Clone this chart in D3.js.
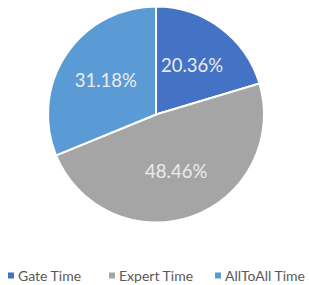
<!DOCTYPE html>
<html>
<head>
<meta charset="utf-8">
<script src="https://cdn.jsdelivr.net/npm/d3@7"></script>
<style>
  html, body { margin: 0; padding: 0; background: #fff; }
  #chart { width: 309px; height: 285px; }
</style>
</head>
<body>
<div id="chart"></div>
<script>
const categories = ["Gate Time", "Expert Time", "AllToAll Time"];
const values = [20.36, 48.46, 31.18];
const colors = ["#4472C4", "#A5A5A5", "#5B9BD5"];

const width = 309, height = 285;
const cx = 156, cy = 114.5, radius = 108;

const svg = d3.select("#chart")
    .append("svg")
    .attr("width", width)
    .attr("height", height);

const color = d3.scaleOrdinal().domain(categories).range(colors);

const pie = d3.pie().sort(null).value((d, i) => values[i]);
const arcs = pie(categories);

const arc = d3.arc().innerRadius(0).outerRadius(radius);
const labelArc = d3.arc().innerRadius(radius * 0.56).outerRadius(radius * 0.56);

const g = svg.append("g").attr("transform", `translate(${cx},${cy})`);

g.selectAll(".slice").data(arcs).join("path")
    .attr("class", "slice")
    .attr("d", arc)
    .attr("fill", d => color(d.data))
    .attr("stroke", "#fff")
    .attr("stroke-width", 2);

g.selectAll(".label").data(arcs).join("text")
    .attr("class", "label")
    .attr("transform", d => `translate(${labelArc.centroid(d)})`)
    .attr("text-anchor", "middle")
    .attr("dy", "0.35em")
    .attr("font-family", "Lato, 'Open Sans', sans-serif")
    .attr("font-size", 18.5)
    .attr("fill", "#ececec")
    .text(d => d3.format(".2f")(d.value) + "%");

// legend
const legendX = [8, 109, 215];
const legend = svg.append("g").attr("transform", "translate(0,276)");
const items = legend.selectAll(".item").data(categories).join("g")
    .attr("class", "item")
    .attr("transform", (d, i) => `translate(${legendX[i]},0)`);
items.append("rect")
    .attr("x", 0).attr("y", -3.5)
    .attr("width", 6).attr("height", 6)
    .attr("fill", d => color(d));
items.append("text")
    .attr("x", 10)
    .attr("dy", "0.35em")
    .attr("font-family", "Lato, 'Open Sans', sans-serif")
    .attr("font-size", 14)
    .attr("fill", "#595959")
    .text(d => d);
</script>
</body>
</html>
